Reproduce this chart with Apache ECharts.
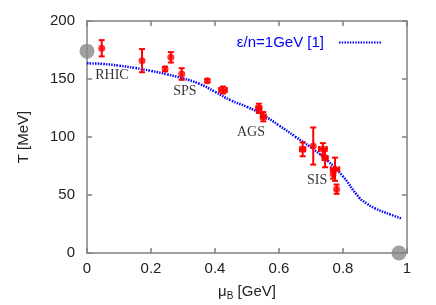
<!DOCTYPE html>
<html><head><meta charset="utf-8">
<script src="https://cdn.jsdelivr.net/npm/echarts@6/dist/echarts.min.js"></script>
<style>html,body{margin:0;padding:0;background:#fff}#c{width:436px;height:305px}</style>
</head><body><div id="c"></div>
<script>
// Data (mu_B in GeV, T in MeV)
var dataMu   = [0.046, 0.172, 0.244, 0.262, 0.296, 0.376, 0.425, 0.537, 0.551, 0.674, 0.707, 0.737, 0.744, 0.775, 0.769, 0.780];
var dataT    = [176.5, 165.8, 158.6, 168.7, 154.3, 148.5, 140.5, 124.7, 117.5, 89.4, 92.2, 89.7, 81.9, 72.2, 68.1, 55.0];
var dataTErr = [7, 10, 2, 4.5, 5, 1.5, 3, 4, 4, 6, 16, 5, 8, 10, 4, 4];
var dataMuErr= [0, 0, 0, 0, 0, 0, 0.012, 0.008, 0.008, 0.008, 0, 0.012, 0.008, 0.013, 0, 0];

var curveMu = [0, 0.05, 0.1, 0.15, 0.2, 0.25, 0.3, 0.35, 0.4, 0.45, 0.5, 0.55, 0.6, 0.65, 0.7, 0.75, 0.8, 0.85, 0.875, 0.9, 0.95, 0.985];
var curveT  = [163.5, 163, 161.5, 159.5, 157, 154, 150.5, 146, 139, 131.5, 126, 119, 110, 100.5, 91, 80, 66, 48, 42.5, 38.5, 33, 29.5];

var endMu = [0, 0.975];
var endT  = [174, 0];

var labelNames = ['RHIC', 'SPS', 'AGS', 'SIS'];
var labelMu    = [0.078, 0.306, 0.5125, 0.719];
var labelT     = [153.4, 139.7, 104.3, 63];

var errData = dataMu.map(function(m, i){ return [m, dataT[i], dataMuErr[i], dataTErr[i]]; });

var chart = echarts.init(document.getElementById('c'));
var axisColor = '#808080';
var sans = 'Liberation Sans';
var fs = 15;
function axisCommon(extra) {
  var o = {
    type: 'value',
    axisLine: {show: true, onZero: false, lineStyle: {color: axisColor, width: 1.5}},
    axisTick: {show: true, inside: true, length: 5, lineStyle: {color: axisColor, width: 1.5}},
    splitLine: {show: false}
  };
  for (var k in extra) o[k] = extra[k];
  return o;
}
chart.setOption({
  animation: false,
  grid: {left: 87, right: 29, top: 21, bottom: 52, containLabel: false, outerBoundsMode: 'none'},
  legend: {
    right: 49, top: 30, align: 'right', itemWidth: 42, itemHeight: 10, itemGap: 0,
    data: [{name: 'ε/n=1GeV [1]'}],
    itemStyle: {opacity: 0},
    textStyle: {color: '#0000ff', fontFamily: sans, fontSize: fs, padding: [0, 10, 0, 0]},
    selectedMode: false
  },
  xAxis: [axisCommon({
    min: 0, max: 1, interval: 0.2, position: 'bottom',
    name: 'μ{sub|B} [GeV]', nameLocation: 'middle', nameGap: 29,
    nameTextStyle: {color: '#222', fontFamily: sans, fontSize: fs,
      rich: {sub: {fontSize: 10, verticalAlign: 'bottom', padding: [9,0,0,0], fontFamily: sans, color:'#222'}}},
    axisLabel: {color: '#222', fontFamily: sans, fontSize: fs, margin: 8,
      formatter: function(v){ return String(v); }}
  }), axisCommon({
    min: 0, max: 1, interval: 0.2, position: 'top',
    axisLabel: {show: false}
  })],
  yAxis: [axisCommon({
    min: 0, max: 200, interval: 50, position: 'left',
    name: 'T [MeV]', nameLocation: 'middle', nameGap: 56, nameRotate: 90,
    nameTextStyle: {color: '#222', fontFamily: sans, fontSize: fs},
    axisLabel: {color: '#222', fontFamily: sans, fontSize: fs, margin: 12}
  }), axisCommon({
    min: 0, max: 200, interval: 50, position: 'right',
    axisLabel: {show: false}
  })],
  series: [{
    name: 'ε/n=1GeV [1]', type: 'line', showSymbol: false, symbol: 'none', smooth: true,
    data: curveMu.map(function(m, i){ return [m, curveT[i]]; }),
    lineStyle: {color: '#0000ff', width: 2.5, type: [1.5, 1.2]},
    itemStyle: {color: '#0000ff'}, z: 3
  }, {
    type: 'custom', z: 4, silent: true,
    data: errData,
    renderItem: function(params, api){
      var x = api.value(0), y = api.value(1), ex = api.value(2), ey = api.value(3);
      var c = api.coord([x, y]);
      var children = [];
      function st(){ return {stroke: '#ff0000', lineWidth: 2}; }
      if (ey > 0) {
        var t = api.coord([x, y + ey]), b = api.coord([x, y - ey]);
        children.push({type: 'line', shape: {x1: c[0], y1: t[1], x2: c[0], y2: b[1]}, style: st()});
        children.push({type: 'line', shape: {x1: c[0]-3, y1: t[1], x2: c[0]+3, y2: t[1]}, style: st()});
        children.push({type: 'line', shape: {x1: c[0]-3, y1: b[1], x2: c[0]+3, y2: b[1]}, style: st()});
      }
      if (ex > 0) {
        var l = api.coord([x - ex, y]), r = api.coord([x + ex, y]);
        children.push({type: 'line', shape: {x1: l[0], y1: c[1], x2: r[0], y2: c[1]}, style: st()});
        children.push({type: 'line', shape: {x1: l[0], y1: c[1]-3, x2: l[0], y2: c[1]+3}, style: st()});
        children.push({type: 'line', shape: {x1: r[0], y1: c[1]-3, x2: r[0], y2: c[1]+3}, style: st()});
      }
      return {type: 'group', children: children};
    }
  }, {
    type: 'scatter', z: 5, symbol: 'circle', symbolSize: 7,
    data: dataMu.map(function(m, i){ return [m, dataT[i]]; }),
    itemStyle: {color: '#ff0000'}
  }, {
    type: 'scatter', z: 6, symbol: 'circle', symbolSize: 15, clip: false,
    data: endMu.map(function(m, i){ return [m, endT[i]]; }),
    itemStyle: {color: '#888888'}
  }, {
    type: 'scatter', z: 7, symbolSize: 0, silent: true,
    data: labelNames.map(function(n, i){ return {name: n, value: [labelMu[i], labelT[i]]}; }),
    label: {show: true, position: 'inside', formatter: '{b}', color: '#000',
      fontFamily: 'Liberation Serif', fontSize: 14}
  }]
});
</script></body></html>
